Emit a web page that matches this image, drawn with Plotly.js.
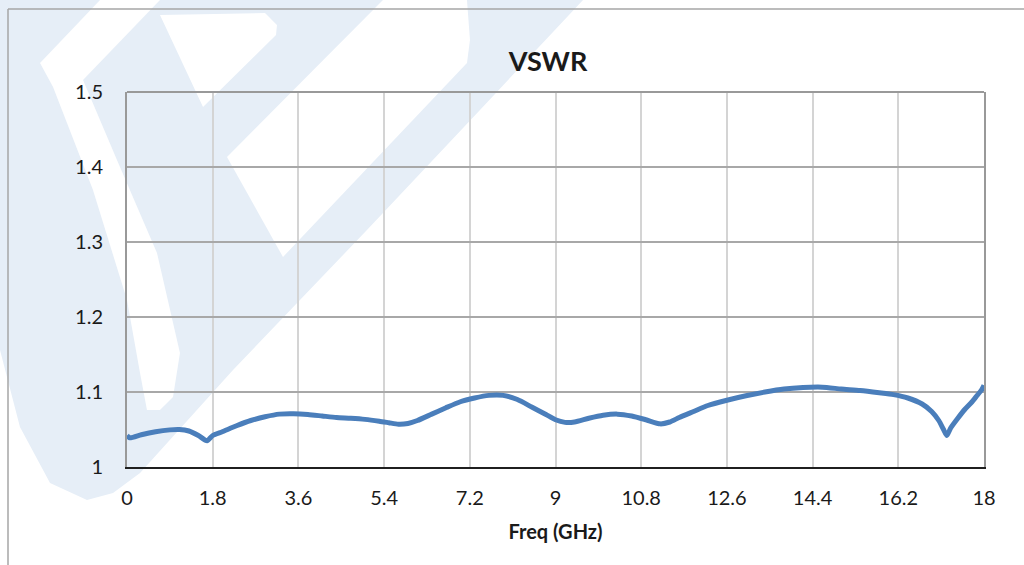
<!DOCTYPE html>
<html>
<head>
<meta charset="utf-8">
<script src="https://cdn.plot.ly/plotly-3.0.1.min.js"></script>
<style>html,body{margin:0;padding:0;background:#fff;}#chart{width:1024px;height:565px;}</style>
</head>
<body>
<div id="chart"></div>
<script>
// ---- data ----
const freqGHz = [0.00,0.06,0.3,0.6,0.9,1.1,1.3,1.5,1.68,1.8,2.0,2.3,2.6,2.9,3.2,3.5,3.8,4.1,4.4,4.7,5.0,5.3,5.5,5.7,5.9,6.1,6.4,6.7,7.0,7.3,7.6,7.9,8.2,8.5,8.8,9.0,9.2,9.4,9.7,10.0,10.3,10.6,10.9,11.2,11.4,11.6,11.9,12.2,12.6,13.0,13.4,13.8,14.2,14.6,15.0,15.4,15.8,16.1,16.4,16.7,16.9,17.05,17.15,17.22,17.3,17.45,17.6,17.75,17.85,17.95,18.0];
const vswr = [1.042,1.039,1.043,1.047,1.0495,1.050,1.048,1.042,1.035,1.042,1.047,1.055,1.062,1.067,1.0705,1.071,1.070,1.068,1.066,1.065,1.0635,1.061,1.059,1.057,1.058,1.062,1.0705,1.079,1.087,1.092,1.0955,1.0955,1.090,1.080,1.070,1.063,1.0595,1.060,1.065,1.069,1.0705,1.068,1.063,1.0575,1.060,1.066,1.074,1.082,1.089,1.095,1.100,1.104,1.106,1.1065,1.104,1.102,1.099,1.0965,1.092,1.084,1.074,1.062,1.050,1.042,1.052,1.065,1.077,1.087,1.095,1.103,1.109];
const xTickVals = [0,1.8,3.6,5.4,7.2,9,10.8,12.6,14.4,16.2,18];
const xTickText = ['0','1.8','3.6','5.4','7.2','9','10.8','12.6','14.4','16.2','18'];
const yTickVals = [1,1.1,1.2,1.3,1.4,1.5];
const yTickText = ['1','1.1','1.2','1.3','1.4','1.5'];
const chartTitle = 'VSWR';
const xTitle = 'Freq (GHz)';

// ---- layout geometry (pixels) ----
const L = 127, R = 40, T = 92, B = 98, W = 1024 - L - R, H = 565 - T - B;
function px(x){ return (x - L) / W; }
function py(y){ return (T + H - y) / H; }
function pathFromPx(pts){
  return 'M' + pts.map(p => px(p[0]).toFixed(4) + ',' + py(p[1]).toFixed(4)).join(' L') + ' Z';
}
// faint watermark: a blue base with white cut-outs (pixel outlines)
const wmBlue = '#e6eef7';
const wmBase = [[0,0],[583,0],[480,110],[367,230],[233,370],[140,473],[113,493],[87,500],[50,483],[20,427],[0,350]];
const wmHoles = [
  [[100,0],[160,0],[83,80],[117,160],[157,253],[180,353],[173,397],[160,410],[147,410],[140,373],[127,300],[93,190],[53,87],[40,63]],
  [[160,15],[265,13],[277,25],[276,35],[203,107]],
  [[227,157],[383,0],[467,0],[470,40],[467,63],[283,257]]
];
const shapes = [];
shapes.push({type:'path', xref:'paper', yref:'paper', path: pathFromPx(wmBase), fillcolor: wmBlue, line:{width:0}, layer:'below'});
wmHoles.forEach(p => shapes.push({type:'path', xref:'paper', yref:'paper', path: pathFromPx(p), fillcolor:'#ffffff', line:{width:0}, layer:'below'}));
// chart border (outer frame)
shapes.push({type:'line', xref:'paper', yref:'paper', x0:px(8), y0:py(9), x1:px(1030), y1:py(9), line:{color:'#a6a6a6', width:1.5}});
shapes.push({type:'line', xref:'paper', yref:'paper', x0:px(8), y0:py(9), x1:px(8), y1:py(570), line:{color:'#a6a6a6', width:1.5}});
// plot top border
shapes.push({type:'line', xref:'paper', yref:'paper', x0:0, y0:1, x1:1, y1:1, line:{color:'#999999', width:2}});

const trace = {
  x: freqGHz, y: vswr, type:'scatter', mode:'lines',
  line:{color:'#4a7ebb', width:5, shape:'spline', smoothing:0.6},
  hoverinfo:'skip', showlegend:false
};

const font = 'Lato, "Open Sans", sans-serif';
const layout = {
  width:1024, height:565,
  margin:{l:L, r:R, t:T, b:B, pad:0},
  paper_bgcolor:'#ffffff', plot_bgcolor:'rgba(0,0,0,0)',
  font:{family:font, color:'#1a1a1a', size:20},
  title:{text:'<b>'+chartTitle+'</b>', font:{family:font, size:27, color:'#1a1a1a'}, xref:'container', yref:'container', x:548/1024, y:1-62/565, xanchor:'center', yanchor:'middle'},
  xaxis:{range:[0,18], tickvals:xTickVals, ticktext:xTickText, showgrid:true, gridcolor:'#d4d4d4', gridwidth:2,
         zeroline:false, showline:true, linecolor:'#1f1f1f', linewidth:2,
         ticks:'outside', ticklen:12, tickcolor:'rgba(0,0,0,0)', tickfont:{size:20},
         title:{text:'<b>'+xTitle+'</b>', font:{size:20}, standoff:17}},
  yaxis:{range:[1,1.5], tickvals:yTickVals, ticktext:yTickText, showgrid:true, gridcolor:'#a8a8a8', gridwidth:1.5,
         zeroline:false, showline:true, linecolor:'#999999', linewidth:2, mirror:true,
         ticks:'outside', ticklen:18, tickcolor:'rgba(0,0,0,0)', tickfont:{size:20}},
  shapes: shapes
};
Plotly.newPlot('chart', [trace], layout, {staticPlot:true, displayModeBar:false});
</script>
</body>
</html>
